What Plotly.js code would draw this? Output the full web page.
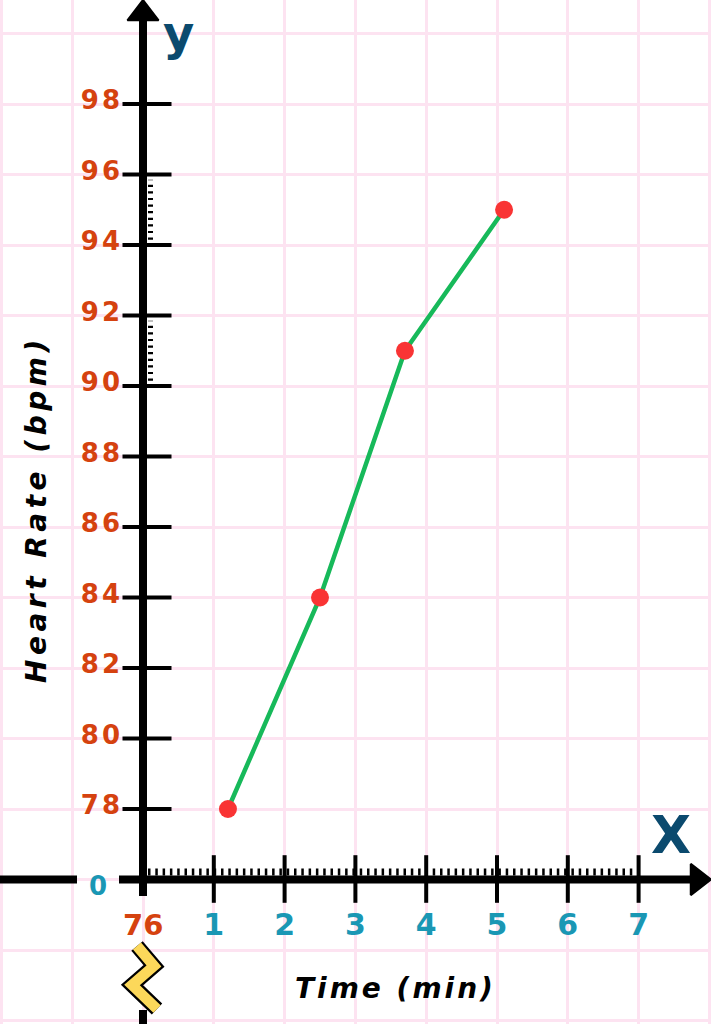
<!DOCTYPE html>
<html>
<head>
<meta charset="utf-8">
<script src="https://cdn.plot.ly/plotly-3.0.1.min.js"></script>
<style>
  html, body { margin: 0; padding: 0; background: #fff; }
  #plotdiv { width: 711px; height: 1024px; }
  .ytick text { letter-spacing: 3px; }
  g.annotation[data-index="0"] text { letter-spacing: 3px; }
  g.annotation[data-index="1"] text { letter-spacing: 4.5px; }
</style>
</head>
<body>
<div id="plotdiv"></div>
<script>
// values
var timeMin = [1.2, 2.5, 3.7, 5.1];
var heartRate = [78, 84, 91, 95];

var xTicks = [1, 2, 3, 4, 5, 6, 7];
var yTicks = [78, 80, 82, 84, 86, 88, 90, 92, 94, 96, 98];
var yBase = 76;                       // y axis is broken below this value
var dottedSpans = [[94, 96], [90, 92]];

// page size and where the origin sits on it
var W = 711, H = 1024;
var pxPerX = 70.8, originX = 143;
var pxPerY = 35.25, originY = 879.5;

function xAt(px) { return (px - originX) / pxPerX; }
function yAt(py) { return yBase + (originY - py) / pxPerY; }

var pink = '#fde3f1';
var teal = '#1a97b4';
var orange = '#d5420f';
var navy = '#0b4a6e';

function seg(xs, ys, w, extra) {
    var t = {
        x: xs, y: ys, mode: 'lines', type: 'scatter', hoverinfo: 'skip',
        line: { color: '#000', width: w }
    };
    if (extra) {
        for (var k in extra) t.line[k] = extra[k];
    }
    return t;
}

var data = [];

// little dotted minor ticks
data.push(seg([xAt(148), xTicks[xTicks.length - 1]], [yAt(872), yAt(872)], 7, { dash: '2.5px,4.8px' }));
for (var i = 0; i < dottedSpans.length; ++i) {
    data.push(seg([xAt(150.5), xAt(150.5)],
        [dottedSpans[i][0] + 0.15, dottedSpans[i][1] - 0.15], 5, { dash: '2.2px,4.4px' }));
}

// axis lines
data.push(seg([0, 0], [yAt(896), yAt(18)], 8));
data.push(seg([0, 0], [yAt(1010), yAt(1030)], 8));
data.push(seg([xAt(-5), xAt(77)], [yBase, yBase], 8));
data.push(seg([xAt(119), xAt(697)], [yBase, yBase], 8));

// crossing tick marks
data.push({
    x: yTicks.map(function () { return xAt(147); }), y: yTicks,
    mode: 'markers', type: 'scatter', hoverinfo: 'skip',
    marker: { symbol: 'line-ew', size: 35, line: { width: 4, color: '#000' } }
});
data.push({
    x: xTicks, y: xTicks.map(function () { return yAt(879); }),
    mode: 'markers', type: 'scatter', hoverinfo: 'skip',
    marker: { symbol: 'line-ns', size: 34, line: { width: 4, color: '#000' } }
});

// arrow heads
data.push({
    x: [0], y: [yAt(13.5)], mode: 'markers', type: 'scatter', hoverinfo: 'skip', cliponaxis: false,
    marker: { symbol: 'triangle-up', size: 27, color: '#000', line: { width: 2, color: '#000' } }
});
data.push({
    x: [xAt(697.5)], y: [yBase], mode: 'markers', type: 'scatter', hoverinfo: 'skip', cliponaxis: false,
    marker: { symbol: 'triangle-right', size: 27, color: '#000', line: { width: 2, color: '#000' } }
});

// axis break zigzag
var zigX = [xAt(137), xAt(154), xAt(132), xAt(157)];
var zigY = [yAt(946), yAt(966), yAt(985), yAt(1009)];
data.push(seg(zigX, zigY, 15));
data.push(seg(zigX, zigY, 10.5, { color: '#fcd85a' }));

// the readings
data.push({
    x: timeMin, y: heartRate,
    mode: 'lines+markers', type: 'scatter',
    line: { color: '#17b95a', width: 4.5 },
    marker: { color: '#f93434', size: 18 }
});

var layout = {
    width: W, height: H,
    margin: { l: 0, r: 0, t: 0, b: 0, pad: 0 },
    paper_bgcolor: '#fff', plot_bgcolor: '#fff',
    showlegend: false,
    xaxis: {
        range: [xAt(0), xAt(W)], fixedrange: true,
        anchor: 'free', position: (H - originY) / H,
        tickmode: 'array', tickvals: xTicks, ticks: '',
        showgrid: true, gridcolor: pink, gridwidth: 3,
        minor: { tick0: 0, dtick: 1, showgrid: true, gridcolor: pink, gridwidth: 3 },
        zeroline: false, showline: false,
        tickfont: { family: 'DejaVu Sans', size: 30, color: teal, weight: 'bold' },
        ticklabelstandoff: 24
    },
    yaxis: {
        range: [yAt(H), yAt(0)], fixedrange: true,
        anchor: 'free', position: originX / W,
        tickmode: 'array', tickvals: yTicks, ticks: '',
        showgrid: true, gridcolor: pink, gridwidth: 3,
        minor: { tick0: 0, dtick: 2, showgrid: true, gridcolor: pink, gridwidth: 3 },
        zeroline: false, showline: false,
        tickfont: { family: 'DejaVu Sans', size: 26, color: orange, weight: 'bold' },
        ticklabelstandoff: 20,
        ticklabelshift: -4
    },
    annotations: [
        { text: 'Time (min)', x: xAt(395), y: yAt(988), showarrow: false,
          font: { family: 'DejaVu Sans', size: 28, color: '#000', style: 'italic', weight: 'bold' } },
        { text: 'Heart Rate (bpm)', x: xAt(36), y: yAt(509), showarrow: false, textangle: -90,
          font: { family: 'DejaVu Sans', size: 28, color: '#000', style: 'italic', weight: 'bold' } },
        { text: 'y', x: xAt(178), y: yAt(33), showarrow: false,
          font: { family: 'DejaVu Sans', size: 48, color: navy, weight: 'bold' } },
        { text: 'X', x: xAt(671), y: yAt(835), showarrow: false,
          font: { family: 'DejaVu Sans', size: 52, color: navy, weight: 'bold' } },
        { text: '0', x: xAt(98), y: yAt(886), showarrow: false,
          font: { family: 'DejaVu Sans', size: 26, color: teal, weight: 'bold' } },
        { text: '76', x: 0, y: yAt(925), showarrow: false,
          font: { family: 'DejaVu Sans', size: 29, color: orange, weight: 'bold' } }
    ]
};

Plotly.newPlot('plotdiv', data, layout, { displayModeBar: false, staticPlot: true });
</script>
</body>
</html>
